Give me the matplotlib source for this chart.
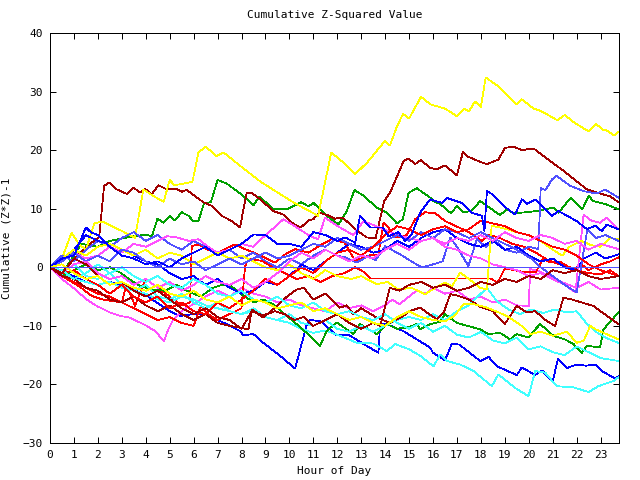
import matplotlib
matplotlib.use("Agg")
import matplotlib.pyplot as plt

# ---- data: (hour, cumulative value) ----
yellow_a = [(0,0),(0.5,1.5),(0.9,5.9),(1.2,4),(1.5,3),(1.85,7.5),(2.2,7.8),(2.6,7),(3.1,6),(3.55,5),(3.9,13.3),(4.3,12.2),(4.75,11.2),(5.0,14.9),(5.2,14),(5.95,14.6),(6.2,19.6),(6.5,20.6),(6.95,19),(7.25,19.6),(7.95,17.3),(8.8,14.6),(9.3,13.3),(10.2,11),(10.7,9.9),(11.2,8.8),(11.75,19.6),(12.25,17.9),(12.75,15.9),(13.25,17.9),(14.0,21.6),(14.2,20.8),(14.5,24.1),(14.75,26.2),(15.0,25.4),(15.5,29.1),(15.9,27.8),(16.5,27.1),(17.0,25.8),(17.3,27.1),(17.5,26.6),(17.75,28.3),(18.0,27.4),(18.2,32.4),(18.7,31),(19.5,27.8),(19.7,28.7),(20.2,27.1),(20.5,26.7),(21.2,25.1),(21.5,26),(21.9,24.7),(22.5,23.2),(22.8,24.5),(23.1,23.5),(23.3,23.3),(23.55,22.5),(23.75,23.1)]
darkred_a = [(0,0),(0.5,-1),(1.0,1.4),(1.5,3.5),(2.0,5),(2.06,5.3),(2.26,13.9),(2.48,14.5),(2.79,13.3),(3.23,12.5),(3.48,13.6),(3.76,12.8),(3.97,13.4),(4.25,12.5),(4.53,14),(4.88,13.3),(5.29,13.4),(5.5,12.9),(5.71,13.2),(6.41,11.1),(6.76,10.5),(7.17,8.8),(7.59,7.9),(7.94,6.8),(8.08,9.9),(8.22,12.7),(8.43,12.7),(8.78,11.6),(9.33,9.6),(9.75,9.0),(10.1,7.6),(10.48,6.8),(10.8,8.0),(11.0,8.2),(11.25,9.3),(11.6,8.9),(11.91,8.3),(12.23,8.5),(12.75,6.5),(13.23,5.1),(13.6,4.9),(13.96,11.3),(14.2,12.7),(14.77,18.1),(14.98,18.6),(15.25,17.6),(15.49,18.3),(15.88,17.0),(16.16,16.7),(16.5,17.4),(17.0,15.7),(17.25,19.7),(17.4,19),(17.97,18),(18.25,17.6),(18.73,18.4),(19.01,20.4),(19.36,20.6),(19.71,20.0),(20.2,20.3),(20.97,17.9),(21.38,16.7),(22.43,13.3),(22.98,12.6),(23.4,12.1),(23.75,11.1)]
green_a = [(0,0),(0.5,-1),(1.0,2),(1.3,4),(2.0,3.5),(2.5,4.5),(3.0,4.9),(3.5,5.3),(4.04,5.6),(4.25,5.2),(4.49,8.3),(4.74,7.6),(5.01,8.8),(5.22,8.0),(5.5,9.4),(5.78,8.8),(5.99,7.9),(6.2,7.9),(6.44,11.0),(6.72,11.1),(7.0,14.9),(7.38,14.3),(7.94,12.6),(8.15,11.9),(8.5,10.6),(8.75,12.1),(9.33,9.9),(9.89,9.9),(10.49,11.1),(10.8,10.4),(11.0,11.0),(11.56,8.8),(12.05,7.3),(12.4,9.6),(12.72,13.2),(13.1,12.2),(13.65,10.2),(14.07,9.3),(14.49,7.5),(14.74,8.2),(14.98,12.7),(15.32,13.5),(15.88,11.9),(16.02,11.3),(16.3,10.8),(16.76,9.2),(17.0,10.5),(17.27,9.4),(17.6,9.6),(17.97,11.3),(18.25,10.5),(18.8,8.9),(19.08,9.9),(19.39,9.2),(20.34,9.6),(21.03,10.2),(21.24,9.3),(21.76,11.9),(22.24,9.9),(22.5,12.2),(22.7,11.3),(23.19,10.8),(23.75,9.9)]
blue_a = [(0,0),(0.5,-1),(1,-1.5),(1.5,-2.5),(2,-3),(2.5,-2.5),(3,-3),(3.75,-4.3),(4.1,-5),(4.46,-6),(5.0,-7.5),(5.43,-8.3),(6.0,-8.0),(6.55,-8),(7.0,-9),(7.38,-9.7),(7.94,-10.9),(8.08,-11.6),(8.5,-11.4),(8.91,-12.9),(9.61,-15.1),(10.24,-17.3),(10.73,-9.7),(10.87,-9.0),(11.3,-9.2),(11.7,-10.6),(11.98,-11.6),(12.5,-11.6),(13.1,-13.1),(13.72,-14.6),(13.79,-9.7),(14.07,-9.7),(14.76,-10.9),(15.32,-12.3),(15.88,-13.7),(16.0,-14.6),(16.5,-15.9),(16.79,-13.0),(17.1,-13.2),(17.97,-16.0),(18.32,-15.3),(18.67,-16.9),(19.5,-18.4),(19.71,-17.1),(20.27,-18.4),(20.55,-17.6),(21.0,-19.5),(21.22,-15.6),(21.59,-17.2),(22.0,-16.6),(22.4,-16.8),(22.78,-16.6),(23.05,-17.7),(23.61,-19.0),(23.75,-18.6)]
cyan_a = [(0,0),(0.5,-1),(1,-2),(1.5,-2.5),(2,-3),(2.5,-2.5),(3,-3.5),(3.5,-4),(4,-4.5),(4.5,-5.5),(5,-6),(5.5,-5),(6,-5.5),(6.5,-6.5),(7,-7),(7.5,-7.5),(8,-8),(8.5,-7.5),(9,-8.5),(9.5,-9),(10,-9.5),(10.5,-10.5),(11,-11.2),(11.5,-10.8),(12.12,-11.7),(12.82,-12.9),(13.5,-13),(14.07,-14.3),(14.42,-13.1),(15.0,-14),(15.46,-15.1),(16.02,-16.9),(16.3,-14.9),(16.58,-16),(17.13,-16.6),(17.69,-17.7),(18.46,-20.3),(18.73,-18.3),(19.5,-20.8),(19.99,-22.0),(20.27,-17.7),(20.69,-18.0),(21.17,-20.3),(21.87,-20.5),(22.5,-21.3),(22.91,-20.3),(23.54,-19.4),(23.75,-18.8)]
magenta_a = [(0,0),(0.5,-2),(0.97,-3.5),(1.53,-5.5),(1.95,-6.6),(2.5,-7.7),(2.93,-8.3),(3.34,-8.6),(4.04,-10),(4.39,-10.9),(4.76,-12.6),(4.94,-10.6),(5.15,-8.9),(5.57,-7.2),(5.99,-6.3),(6.5,-5),(7,-4),(7.5,-5),(8,-3.5),(8.5,-4.5),(9,-5),(9.5,-6),(10,-5.5),(10.5,-6.5),(11,-7),(11.5,-7.5),(12,-6),(12.5,-7),(13,-6.5),(13.5,-7.5),(14,-6.5),(14.3,-5.5),(14.6,-6.3),(15,-5),(15.3,-4),(15.7,-4.5),(16,-3.5),(16.5,-4.5),(17,-4),(17.5,-5.5),(18,-5),(18.5,-6),(19,-5.5),(19.5,-6.5),(20.0,-6.6),(20.06,-0.3),(20.4,-0.6),(21.1,-2),(21.6,-2.9),(22.0,-3.5),(22.5,-2.5),(23,-3.8),(23.75,-3.5)]
magenta_b = [(0,0),(0.5,1),(1,2.5),(1.5,1.5),(2,2),(2.5,3.5),(3,2.5),(3.5,4),(4,3.5),(4.5,4.5),(4.9,5.3),(5.3,5.1),(5.8,4.5),(6.2,4.8),(6.6,3.5),(7,2.5),(7.5,3),(8,4),(8.5,3.5),(8.9,5.1),(9.75,8.2),(10.31,6.8),(10.87,5.3),(11.2,4.8),(11.49,8.5),(11.98,7.1),(12.67,5.5),(13.1,7.9),(13.93,6.5),(14.5,5.5),(15,5),(15.5,4.5),(16,5),(16.5,3.5),(17,3),(17.5,2),(18,1.5),(18.5,0.5),(19,0),(19.5,-0.5),(20,-1.5),(20.5,-1),(21,-2),(21.5,-3),(21.95,-4.3),(22.29,9.0),(22.6,8),(22.98,7.6),(23.26,8.5),(23.75,6.5)]
magenta_c = [(0,0),(0.5,-1),(1,0.5),(1.5,1),(2,-1),(2.5,-2),(3,-1.5),(3.5,-3),(4,-2),(4.5,-3.5),(5,-2.5),(5.5,-4),(6,-3),(6.5,-1.5),(7,-2.5),(7.5,-3),(8,-2),(8.5,-3.5),(9,-2.5),(9.5,-1),(10,1),(10.5,2.5),(11,1.5),(11.5,3),(12,2),(12.5,1),(13,2),(13.5,1.5),(14,3),(14.5,4),(15,3),(15.5,4.5),(16,5),(16.5,4),(17,5),(17.5,4.5),(18,5.5),(18.5,4.5),(19,6),(19.5,5),(20,4.5),(20.5,5.5),(21,5),(21.5,4),(22,4.5),(22.5,3),(23,4),(23.75,3.1)]
lightblue_a = [(0,0),(0.5,2),(1,1),(1.5,3),(2,4.5),(2.5,3.5),(3,5),(3.5,6),(4,4.5),(4.5,5.5),(5,4),(5.5,3),(6,4.5),(6.5,3.5),(7,2.5),(7.5,3),(8,1.5),(8.5,2.5),(9,1),(9.5,0),(10,1.5),(10.5,0.5),(11,2),(11.5,3),(12,2),(12.33,1.7),(12.8,0.8),(13.3,1.9),(13.6,1.2),(14,3.6),(14.63,2.2),(15.1,1),(15.53,0),(16,0.5),(16.4,1),(16.72,5.1),(17,3.5),(17.48,0.2),(17.83,4.8),(18.2,3.5),(18.6,4.5),(19,3),(19.5,2.5),(20,3.5),(20.4,3.1),(20.5,13.5),(20.7,13.2),(20.97,15),(21.17,15.6),(21.73,13.9),(22.29,13),(22.85,12.6),(23.19,13.3),(23.5,12.5),(23.75,11.9)]
lightblue_b = [(0,0),(0.5,1),(1,2.5),(1.5,1),(2,2),(2.5,1),(3,3),(3.5,2.5),(4,1),(4.5,0),(5,1.5),(5.5,0.5),(6,1),(6.5,-0.5),(7,0.5),(7.5,1.5),(8,0.5),(8.5,1.5),(9,2.5),(9.5,1.5),(10,2),(10.5,3),(11,4),(11.5,3.5),(12,5),(12.5,4),(13,3),(13.5,3.5),(14,4.5),(14.5,5.5),(15,4.5),(15.5,6),(16,5),(16.5,6.5),(17,6),(17.5,5),(18,6),(18.5,5),(19,4),(19.5,3),(20.1,1.5),(20.5,0),(21,-1.5),(21.5,-3),(22.0,-4.3),(22.45,6.5),(22.8,5),(23.2,5.5),(23.75,4.5)]
flat_zero = [(0,0),(23.75,0)]
red_a = [(0,0),(0.5,-1.5),(1.2,-3.2),(1.75,-4.9),(2.2,-5.5),(3.0,-6.0),(3.2,-2.9),(3.55,-6.6),(4.0,-2.0),(4.5,-3.5),(5.0,-5),(5.5,-6.5),(5.85,-6),(5.92,3.6),(6.2,3.9),(6.6,3.0),(7.0,2.5),(7.45,3.4),(7.73,3.9),(8.15,3.1),(8.8,2),(9.4,0.8),(9.82,2.2),(10.24,3.1),(10.8,2.5),(11.35,3.9),(11.77,4.8),(12.3,4.2),(12.75,1.1),(13.3,2),(13.72,2.2),(13.93,7.6),(14.1,7),(14.42,5.1),(14.9,5.5),(15.25,8.2),(15.67,9.4),(16.1,9.2),(16.5,7.9),(16.92,7.1),(17.5,6),(18.04,4.5),(18.32,5.6),(18.8,5),(19.3,4),(19.8,3.5),(20.3,2.5),(20.8,1.2),(21.3,0.5),(21.8,-0.5),(22.2,0.5),(22.5,-0.5),(23,0.5),(23.4,1),(23.75,1.7)]
red_b = [(0,0),(0.5,-1.5),(1,-2.5),(1.5,-3.5),(2,-4.5),(2.5,-5),(3,-6),(3.5,-7),(4,-8),(4.5,-9),(5,-8.5),(5.5,-9.5),(6,-10),(6.3,-6.6),(6.6,-8),(7,-9),(7.5,-8),(8,-7),(8.15,0.2),(8.29,1.4),(8.85,1.1),(9.3,0),(9.8,-1),(10.3,-2),(10.8,-1.5),(11.3,-2.5),(11.8,-1.5),(12.3,-1),(12.75,0),(13.16,-0.9),(13.4,-1.9),(18.4,-1.9),(18.7,-2.6),(19.0,-0.2),(19.4,-0.5),(19.8,-0.8),(20.3,-0.8),(20.6,1.5),(20.9,0.8),(21.3,1),(21.6,0.2),(22.0,-0.5),(22.5,-1.0),(23,-1.2),(23.4,-0.5),(23.75,-1.5)]
red_c = [(0,0),(0.5,-1),(1,-0.5),(1.5,-2),(2,-3),(2.5,-4.5),(3,-3),(3.5,-5),(4,-6),(4.5,-5),(5,-7),(5.5,-6),(6,-7.5),(6.5,-8),(7,-6),(7.5,-7),(8,-5.5),(8.5,-4),(9,-2),(9.5,-3),(10,-1.5),(10.5,0),(11,-1),(11.5,1),(12,2.5),(12.5,3),(13,2),(13.5,3.5),(14,5.5),(14.5,7),(15,6.5),(15.5,5.5),(16,6.5),(16.5,7),(17,6),(17.5,6.5),(18,8),(18.5,7.5),(19,7),(19.5,6),(20,5.5),(20.5,4.5),(21,3.5),(21.5,3),(22,2),(22.5,0.5),(23,-0.5),(23.4,-1),(23.75,-1.5)]
darkred_b = [(0,0),(0.5,-1.5),(1,-2),(1.5,-3.5),(2,-4),(2.5,-5.5),(3,-6),(3.5,-5),(4,-6.5),(4.5,-7.5),(5,-6.5),(5.5,-8),(6,-9),(6.5,-8),(7,-9.5),(7.5,-10),(7.94,-10.3),(8.29,-10.6),(8.43,-7.2),(8.91,-8.6),(9.4,-6.9),(9.9,-5),(10.3,-3.8),(10.6,-3.5),(11.0,-5.5),(11.5,-4.5),(12.1,-6.9),(12.4,-6.5),(12.67,-8),(13,-7),(13.65,-8.6),(14.2,-9.5),(14.7,-8.5),(15.0,-7.5),(15.46,-6.9),(16.16,-8.9),(16.45,-7.7),(16.72,-4.6),(17.0,-4.8),(17.5,-5.5),(18.0,-6.8),(18.5,-7.5),(19.0,-9.7),(19.5,-6.6),(19.92,-7.7),(20.27,-7.5),(20.76,-9.2),(21.1,-10),(21.45,-5.2),(21.8,-5.5),(22.2,-6),(22.7,-6.6),(23.1,-7.8),(23.75,-9.7)]
darkred_c = [(0,0),(0.5,-1),(1,1.5),(1.5,0.5),(2,-1.5),(2.5,-3),(3,-2.5),(3.5,-4),(4,-5),(4.5,-4),(5,-5.5),(5.5,-7),(6,-8),(6.5,-7),(7,-8.5),(7.5,-9),(8,-10.5),(8.43,-7.5),(8.91,-8.2),(9.4,-7.5),(9.8,-8),(10.2,-9),(10.6,-8.5),(11,-10),(11.5,-9),(12,-8),(12.5,-9.5),(13,-10.5),(13.5,-9.5),(13.8,-10),(14.2,-3.5),(14.6,-4),(15,-3),(15.5,-2.5),(16,-3.5),(16.5,-3),(17,-4),(17.5,-3.5),(18,-2.5),(18.5,-3),(19,-2),(19.5,-2.5),(20,-1.5),(20.5,-2),(21,-0.5),(21.5,-1),(22,-0.5),(22.5,-1.5),(23,-2),(23.75,-1.5)]
green_b = [(0,0),(0.5,-1.5),(1,-0.5),(1.5,0.5),(2,-0.5),(2.5,0),(2.93,-0.9),(3.3,-2),(3.76,-3.2),(4.3,-3.8),(4.8,-4),(5.3,-3),(5.8,-4.2),(6.3,-5),(6.8,-3.5),(7.2,-3),(7.5,-3),(8.0,-4.6),(8.5,-6),(8.9,-5.5),(9.33,-6.3),(9.8,-8),(10.3,-9.7),(10.8,-11.5),(11.28,-13.4),(11.56,-10.9),(11.98,-9.4),(12.67,-11.4),(12.95,-9.7),(13.65,-11.4),(14.07,-9.7),(14.5,-10.5),(15.0,-10.2),(15.32,-9.7),(15.46,-10.6),(15.9,-9.7),(16.3,-9.3),(16.5,-8),(17.0,-9.5),(17.97,-10.6),(18.32,-11.4),(18.8,-11.2),(19.22,-12.3),(19.5,-11.4),(19.99,-12),(20.27,-10.6),(20.48,-9.7),(21.03,-11.7),(21.5,-12.3),(21.87,-13.1),(22.22,-14.6),(22.43,-13.4),(22.98,-13.7),(23.12,-10.6),(23.75,-7.7)]
yellow_b = [(0,0),(0.5,1.5),(1,3),(1.5,2),(2,3.5),(2.5,4),(3,3),(3.5,2),(4,3),(4.5,1.5),(5,2.5),(5.5,2),(6,0.5),(6.5,1.5),(7,2.5),(7.5,1.5),(8,2),(8.5,1),(9,0),(9.5,-0.5),(10,0.5),(10.5,-1),(11,-2),(11.5,-0.5),(12,-1.5),(12.6,-2),(13,-1.5),(13.65,-2.9),(14.1,-2.5),(14.55,-3.8),(15.1,-3.5),(15.67,-4.6),(16.1,-3.5),(16.5,-2.6),(16.8,-3.2),(17.13,-0.9),(17.5,-2),(17.97,-3.5),(18.25,-3.8),(18.45,7.1),(19,6.6),(19.5,6),(20,5.5),(20.5,4.5),(21,3),(21.4,2),(21.7,3.5),(22.2,4.5),(22.6,3.8),(23,3.5),(23.4,5),(23.75,4.8)]
yellow_c = [(0,0),(0.5,0.5),(1,-1),(1.5,-2),(2,-1.5),(2.5,-3),(3,-2.5),(3.5,-3.5),(4,-4),(4.5,-3),(5,-4.5),(5.5,-5),(6,-4),(6.5,-5.5),(7,-6),(7.5,-5),(8,-6.5),(8.5,-5.5),(9,-6),(9.5,-7),(10,-6.5),(10.5,-6),(11,-7.5),(11.5,-7),(12,-8),(12.5,-9),(13,-8.5),(13.5,-9.5),(14,-10),(14.5,-8.5),(15,-7.5),(15.5,-8.5),(16,-9),(16.5,-9.2),(16.9,-8.3),(17.27,-6.3),(17.6,-6.2),(18.2,-6.8),(18.8,-7.8),(19.2,-8.6),(19.7,-10),(20.06,-11.4),(20.5,-11),(21.0,-11.7),(21.6,-11),(22.0,-12.9),(22.3,-12.5),(22.57,-10),(22.8,-10.6),(23.3,-11.5),(23.75,-12.3)]
cyan_b = [(0,0),(0.5,-1),(1,0.5),(1.5,-1.5),(2,-2),(2.5,-1),(3,-3),(3.5,-4),(4,-3),(4.5,-5),(5,-5.5),(5.5,-4.5),(6,-6),(6.5,-7),(7,-6),(7.5,-7.5),(8,-8),(8.5,-7),(9,-8.5),(9.5,-9),(10,-8),(10.5,-9.5),(11,-10),(11.5,-9),(12,-10.5),(12.5,-11),(13,-10),(13.5,-11),(14,-10),(14.5,-9),(15,-8.5),(15.5,-9),(16,-8),(16.5,-9),(17,-7.5),(17.5,-6.5),(18.25,-3.5),(18.67,-5.8),(19.15,-7.2),(19.64,-8),(20.1,-7.2),(20.6,-7.8),(21.1,-7.2),(21.59,-7.7),(22,-7.5),(22.4,-9.5),(22.8,-11),(23.2,-12),(23.75,-12.9)]
cyan_c = [(0,0),(0.5,-0.5),(1,-2),(1.5,-1),(2,0.5),(2.5,-1),(3,0),(3.5,-1.5),(4,-2.5),(4.5,-1.5),(5,-3),(5.5,-3.5),(6,-2),(6.5,-3),(7,-4.5),(7.5,-5),(8,-4),(8.5,-5.5),(9,-6),(9.5,-5),(10,-6.5),(10.5,-7),(11,-6),(11.5,-7.5),(12,-8),(12.5,-7.5),(13,-8.5),(13.5,-9),(14,-8),(14.5,-9.5),(15,-10.5),(15.5,-9.5),(16,-11),(16.5,-10),(17,-11.5),(17.5,-12),(18,-11),(18.5,-12.5),(19,-13),(19.5,-12),(20,-14),(20.5,-13.5),(21,-14.5),(21.5,-15),(22,-13.5),(22.5,-14.5),(23,-15.5),(23.75,-16)]
blue_b = [(0,0),(0.5,1),(1,3),(1.5,5.5),(2,4.5),(2.5,4),(3,3),(3.5,2),(4,1),(4.5,0.5),(5,-1),(5.5,-2),(6,-1.5),(6.5,-3),(7,-2),(7.5,-3.5),(8,-4.5),(8.5,-4),(9,-2.5),(9.5,-3),(10,-1.5),(10.5,0.5),(11,-0.5),(11.5,1),(12,2.5),(12.5,4),(13,3.5),(13.5,2.5),(14,3),(14.5,4.5),(15,3.5),(15.5,5),(16,6),(16.5,6.5),(17,5),(17.5,4),(18,3.5),(18.5,4.5),(19,3),(19.5,3.5),(20,2),(20.5,1),(21,1.5),(21.5,0),(22,-0.5),(22.3,1.5),(22.8,2.5),(23.2,1.5),(23.75,2.2)]
blue_c = [(0,0),(0.5,1.5),(1,2),(1.5,6.8),(1.7,6),(2,5.5),(2.5,3.5),(3,2),(3.5,1.5),(4,0.5),(4.5,1),(5,0),(5.5,1.5),(6,2.5),(6.5,3.5),(7,2),(7.5,3),(8,4),(8.5,5.6),(9,5.5),(9.5,4),(10,4),(10.5,3.5),(11,6),(11.5,5.5),(12,4.5),(12.33,5.1),(12.75,4.2),(12.95,8.8),(13.37,6.8),(13.9,6.8),(14.14,5.3),(14.55,6),(14.83,4.5),(15.1,5.5),(15.46,9.3),(15.88,11.6),(16.37,11),(16.6,11.8),(17.2,11),(17.62,9.3),(18.04,8.8),(18.15,6.2),(18.25,13),(18.46,12.5),(18.94,10.5),(19.43,9),(19.71,11.6),(19.92,10.8),(20.27,11.6),(20.97,8.8),(21.24,9.6),(22,7.9),(22.43,6.5),(22.78,7.1),(23.05,6.2),(23.26,7.3),(23.75,6.5)]

x_ticks = list(range(0, 24))
y_ticks = list(range(-30, 41, 10))
title = "Cumulative Z-Squared Value"
x_label = "Hour of Day"
y_label = "Cumulative (Z*Z)-1"

RED, GREEN, BLUE, MAGENTA = "#ff0000", "#00a000", "#0000ff", "#ff50ff"
CYAN, DARKRED, YELLOW, LIGHTBLUE = "#40ffff", "#a00000", "#ffff00", "#5050ff"

series = [
    (red_a, RED), (green_a, GREEN), (blue_a, BLUE), (magenta_a, MAGENTA),
    (cyan_a, CYAN), (darkred_a, DARKRED), (yellow_a, YELLOW), (lightblue_a, LIGHTBLUE),
    (red_b, RED), (green_b, GREEN), (blue_b, BLUE), (magenta_b, MAGENTA),
    (cyan_b, CYAN), (darkred_b, DARKRED), (yellow_b, YELLOW), (lightblue_b, LIGHTBLUE),
    (red_c, RED), (blue_c, BLUE), (magenta_c, MAGENTA),
    (cyan_c, CYAN), (darkred_c, DARKRED), (yellow_c, YELLOW),
    (flat_zero, LIGHTBLUE),
]

FONT = "DejaVu Sans Mono"
LW = 0.55
fig = plt.figure(figsize=(6.4, 4.8), dpi=100)
ax = fig.add_axes([50/640, 37/480, 569/640, 410/480])
for pts, col in series:
    hs = [p[0] for p in pts]
    vs = [p[1] for p in pts]
    ax.plot(hs, vs, color=col, linewidth=LW, antialiased=False)

ax.set_xlim(0, 23.77)
ax.set_ylim(-30, 40)
ax.set_xticks(x_ticks)
ax.set_yticks(y_ticks)
ax.tick_params(direction="in", length=4, width=0.72, top=True, right=True,
               labelsize=8, pad=5)
for lab in ax.get_xticklabels() + ax.get_yticklabels():
    lab.set_fontfamily(FONT)
for sp in ax.spines.values():
    sp.set_linewidth(0.72)
ax.set_title(title, fontsize=8, fontfamily=FONT, pad=11)
ax.set_xlabel(x_label, fontsize=8, fontfamily=FONT, labelpad=4)
ax.set_ylabel(y_label, fontsize=8, fontfamily=FONT, labelpad=8)
fig.savefig("out.png", dpi=100)
